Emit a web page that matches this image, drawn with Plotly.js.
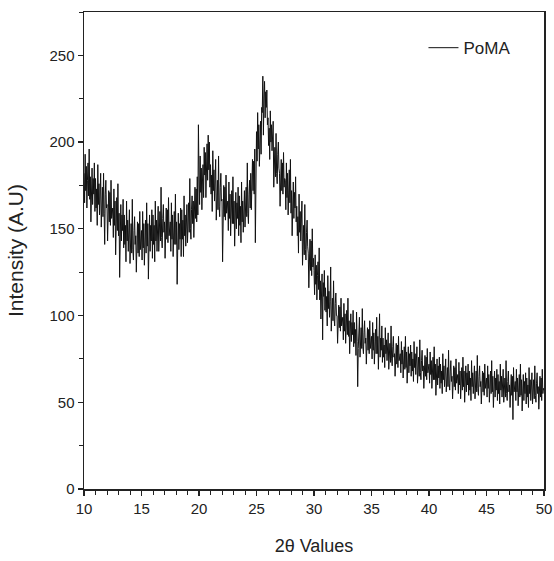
<!DOCTYPE html>
<html>
<head>
<meta charset="utf-8">
<script src="https://cdn.plot.ly/plotly-3.0.1.min.js"></script>
<style>html,body{margin:0;padding:0;background:#fff;}#chart{width:554px;height:561px;}</style>
</head>
<body>
<div id="chart"></div>
<script>
// 2-theta start/step (degrees) and intensity readings (A.U), one row per degree (20 readings each)
const twoThetaStart = 10;
const twoThetaStep = 0.05;
const intensity = [
  182,165,193,172,186,162,178,188,169,196, 167,180,154,176,185,164,179,170,188,160,
  179,162,173,152,187,164,176,158,169,182, 151,168,174,157,182,159,141,170,178,162,
  164,143,167,172,154,171,152,178,156,161, 162,145,173,152,166,135,158,168,149,176,
  146,159,122,155,164,143,158,149,167,139, 158,141,152,131,166,143,155,137,148,161,
  130,147,153,136,167,138,132,149,157,141, 146,125,149,154,136,153,134,160,138,143,
  149,132,160,139,153,129,145,155,136,165, 140,153,121,149,158,137,152,143,161,133,
  158,141,152,131,166,143,155,137,148,163, 137,154,160,143,174,145,139,156,164,148,
  154,133,157,162,144,161,142,168,146,151, 154,137,165,144,158,134,150,160,141,170,
  141,154,118,150,159,138,153,144,162,134, 161,144,155,134,169,146,158,140,151,164,
  142,159,165,148,179,150,144,161,169,153, 166,145,169,174,156,173,154,180,158,210,
  181,164,192,171,185,161,177,187,168,197, 181,194,168,190,199,178,204,184,200,174,
  187,170,181,160,195,172,184,166,177,190, 155,172,178,161,192,163,157,174,182,166,
  167,131,170,175,157,174,155,181,159,164, 166,149,177,156,170,146,162,172,153,180,
  153,166,140,162,171,150,165,156,174,146, 169,152,163,142,177,154,166,148,159,172,
  151,168,174,157,188,159,153,170,178,162, 182,161,185,190,172,189,170,196,142,179,
  206,189,217,196,210,186,202,212,193,220, 217,238,204,226,235,214,229,220,230,210,
  214,198,208,190,218,200,210,195,205,212, 174,191,197,180,205,182,176,193,200,185,
  182,163,185,190,172,188,170,194,174,179, 178,161,188,168,182,158,174,184,165,190,
  159,172,146,168,177,156,171,162,180,154, 163,146,157,136,170,148,160,143,153,166,
  129,146,152,135,164,138,132,148,155,140, 136,116,139,144,126,143,123,150,128,133,
  126,112,135,118,129,109,123,131,115,139, 109,120,98,116,124,86,119,111,126,103,
  116,102,111,94,123,104,114,99,108,128, 91,105,110,97,120,98,94,107,113,100,
  100,84,102,106,93,105,91,110,94,98, 99,86,107,91,101,84,96,103,89,110,
  88,97,78,94,101,85,96,89,103,82, 96,84,92,77,102,85,59,81,89,99,
  76,89,93,81,104,82,78,90,97,84, 87,72,89,93,80,92,78,97,81,85,
  88,75,96,80,90,72,85,92,78,99, 78,88,69,85,101,76,87,80,94,73,
  87,76,83,70,93,78,86,74,81,90, 69,80,84,73,94,75,71,82,88,76,
  78,65,81,84,72,83,70,88,74,77, 78,67,85,72,80,64,76,82,69,88,
  70,79,61,75,82,67,78,71,83,65, 79,68,75,62,85,70,78,66,73,82,
  61,72,76,65,86,67,63,74,80,68, 71,58,74,77,65,76,63,81,67,70,
  72,61,79,66,74,58,70,76,63,82, 63,72,54,68,75,60,71,64,76,58,
  72,61,68,55,78,63,71,59,66,75, 56,66,70,59,80,61,57,68,74,62,
  65,52,68,71,59,70,57,75,61,64, 66,55,73,60,68,52,64,70,57,76,
  59,68,50,64,71,56,67,60,72,54, 68,57,64,51,74,59,67,55,62,71,
  52,64,68,56,77,58,54,65,71,59, 62,49,65,68,56,67,54,72,58,61,
  64,53,71,58,66,50,62,68,55,74, 56,65,47,61,68,53,64,57,69,51,
  66,55,62,49,72,57,65,53,60,69, 50,60,64,53,74,55,51,62,68,56,
  60,47,63,66,54,65,40,70,56,59, 62,51,69,56,64,48,60,66,53,72,
  54,63,45,59,66,51,62,55,67,49, 64,53,60,47,70,55,63,51,58,67,
  49,59,63,52,71,54,50,61,67,55, 59,46,62,65,53,64,51,69,55,58,
  57
];
const seriesName = "PoMA";
const xTitle = "2θ Values";
const yTitle = "Intensity (A.U)";

const twoTheta = intensity.map((_, i) => +(twoThetaStart + i * twoThetaStep).toFixed(3));

const font = "Liberation Sans, Arial, sans-serif";
const axisCommon = {
  showline: true, mirror: true, linecolor: "#222", linewidth: 1.5,
  showgrid: false, zeroline: false,
  ticks: "outside", ticklen: 5, tickwidth: 1.2, tickcolor: "#222",
  tickfont: {family: font, size: 15, color: "#222"}
};

const trace = {
  x: twoTheta, y: intensity, type: "scatter", mode: "lines", name: seriesName,
  line: {color: "#111", width: 1}
};

const layout = {
  width: 554, height: 561,
  margin: {l: 84, r: 10, t: 12, b: 72},
  paper_bgcolor: "#fff", plot_bgcolor: "#fff",
  showlegend: true,
  legend: {x: 0.738, y: 0.962, xanchor: "left", yanchor: "top", bgcolor: "rgba(0,0,0,0)",
           font: {family: font, size: 17, color: "#222"}},
  xaxis: Object.assign({}, axisCommon, {
    range: [10, 50], dtick: 5, tick0: 10,
    minor: {dtick: 1, ticks: "outside", ticklen: 4, tickcolor: "#222", tickwidth: 1},
    title: {text: xTitle, font: {family: font, size: 18, color: "#222"}, standoff: 24}
  }),
  yaxis: Object.assign({}, axisCommon, {
    range: [0, 275], dtick: 50, tick0: 0,
    minor: {dtick: 25, ticks: "outside", ticklen: 4, tickcolor: "#222", tickwidth: 1},
    title: {text: yTitle, font: {family: font, size: 21, color: "#222"}, standoff: 20}
  })
};

Plotly.newPlot("chart", [trace], layout, {displayModeBar: false, staticPlot: true});
</script>
</body>
</html>
